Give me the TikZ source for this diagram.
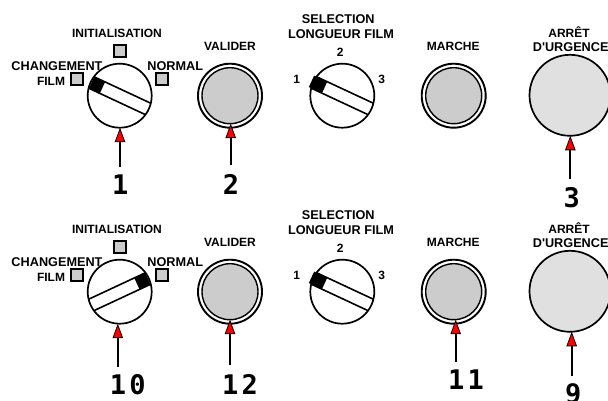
\documentclass[tikz,border=0pt]{standalone}
\usepackage{fontspec}
\setmainfont{Liberation Sans}
\newfontfamily\lblfont{Liberation Sans}
\newfontfamily\numfont[LetterSpace=12]{DejaVu Sans Mono Bold}
\usetikzlibrary{arrows.meta}
\tikzset{
  lbl/.style={font=\lblfont\fontsize{12}{12}\selectfont\bfseries,inner sep=0pt,outer sep=0pt,text=black},
  lblw/.style={font=\lblfont\fontsize{12.7}{12.7}\selectfont\bfseries,inner sep=0pt,outer sep=0pt,text=black},
  num/.style={font=\fontsize{27}{27}\selectfont\numfont,inner sep=0pt,outer sep=0pt,anchor=center},
  knob/.style={circle,draw=black,fill=white,line width=1.7pt,minimum size=64pt,inner sep=0pt,outer sep=0pt},
  btnouter/.style={circle,draw=black,fill=white,line width=1.9pt,minimum size=64pt,inner sep=0pt,outer sep=0pt},
  btninner/.style={circle,draw=black,fill=black!20,line width=1.4pt,minimum size=56pt,inner sep=0pt,outer sep=0pt},
  estop/.style={circle,draw=black,fill=black!12,line width=1.7pt,minimum size=81pt,inner sep=0pt,outer sep=0pt},
  lamp/.style={rectangle,draw=black,fill=black!20,line width=1.7pt,minimum size=12pt,inner sep=0pt,outer sep=0pt},
  redarrow/.style={draw=black,line width=1.7pt,-{Triangle[length=14.5pt,width=10.5pt,fill=red,line width=0.8pt]}},
}
% \knobbar{node}{angle}{tip from}{tip to}
\newcommand{\knobbar}[4]{%
  \begin{scope}[shift={(#1.center)},rotate=#2]
    \fill[black] (#3,-6.3) rectangle (#4,6.3);
    \draw[line width=1.6pt] (-31.4,-6.3) -- (31.4,-6.3);
    \draw[line width=1.6pt] (-31.4,6.3) -- (31.4,6.3);
  \end{scope}}
\begin{document}
\begin{tikzpicture}[x=1pt,y=-1pt]
\useasboundingbox (0,0) rectangle (608,401);
% top row
\node[knob] (k1) at (119.7,95.7) {};
\knobbar{k1}{-25}{-31}{-19}
\node[lamp] (l1) at (77.3,79) {};
\node[lamp] (l2) at (120.3,51.3) {};
\node[lamp] (l3) at (161.7,79) {};
\node[lbl] (t1) at (117,33.7) {INITIALISATION};
\node[lblw] (t2) at (57,65.7) {CHANGEMENT};
\node[lbl] (t3) at (51,81) {FILM};
\node[lblw] (t4) at (175.2,65.7) {NORMAL};
\node[btnouter] (b2o) at (230,95.7) {};
\node[btninner] (b2) at (230,95.7) {};
\node[lbl] (t5) at (230,46) {VALIDER};
\node[knob] (k2) at (342.3,95.7) {};
\knobbar{k2}{-25}{-34}{-19.5}
\node[lblw] (t6) at (338.3,19.3) {SELECTION};
\node[lblw] (t7) at (341,34.3) {LONGUEUR FILM};
\node[lbl] (t8) at (340.3,52.7) {2};
\node[lbl] (t9) at (296.7,79.3) {1};
\node[lbl] (t10) at (381.7,79.3) {3};
\node[btnouter] (b11o) at (453.7,95.7) {};
\node[btninner] (b11) at (453.7,95.7) {};
\node[lbl] (t11) at (453.3,46) {MARCHE};
\node[estop] (e3) at (570,95.3) {};
\node[lbl] (t12) at (569,31.7) {ARRÊT};
\node[lblw] (t13) at (570.7,46.7) {D'URGENCE};
% bottom row
\node[knob] (k3) at (119.7,291.7) {};
\knobbar{k3}{25}{19}{31}
\node[lamp] (l4) at (77.3,274.7) {};
\node[lamp] (l5) at (120.3,247) {};
\node[lamp] (l6) at (161.7,275) {};
\node[lbl] (t14) at (117,229.7) {INITIALISATION};
\node[lblw] (t15) at (57,261.7) {CHANGEMENT};
\node[lbl] (t16) at (51,277) {FILM};
\node[lblw] (t17) at (175.2,261.7) {NORMAL};
\node[btnouter] (b4o) at (230,291.7) {};
\node[btninner] (b4) at (230,291.7) {};
\node[lbl] (t18) at (230,242) {VALIDER};
\node[knob] (k4) at (342.3,291.7) {};
\knobbar{k4}{-25}{-34}{-19.5}
\node[lblw] (t19) at (338.3,215.3) {SELECTION};
\node[lblw] (t20) at (341,230.3) {LONGUEUR FILM};
\node[lbl] (t21) at (340.3,248.7) {2};
\node[lbl] (t22) at (296.7,275.3) {1};
\node[lbl] (t23) at (381.7,275.3) {3};
\node[btnouter] (b5o) at (453.7,291.7) {};
\node[btninner] (b5) at (453.7,291.7) {};
\node[lbl] (t24) at (453.3,242) {MARCHE};
\node[estop] (e9) at (570,291.3) {};
\node[lbl] (t25) at (569,227.7) {ARRÊT};
\node[lblw] (t26) at (570.7,242.7) {D'URGENCE};
% numbers
\node[num] (n1) at (120.3,185) {1};
\node[num] (n2) at (231,184) {2};
\node[num] (n3) at (571.7,197.3) {3};
\node[num] (n10) at (127.7,384.3) {10};
\node[num] (n12) at (240,384) {12};
\node[num] (n11) at (466,379.3) {11};
\node[num] (n9) at (573.3,394) {9};
% arrow tails
\coordinate (a1) at (120,166.7);
\coordinate (a2) at (230.7,165);
\coordinate (a3) at (570.3,179.3);
\coordinate (a10) at (117.8,366.7);
\coordinate (a12) at (230,365);
\coordinate (a11) at (455.7,361.7);
\coordinate (a9) at (571.7,375.7);
\draw[redarrow] (a1) -- (a1 |- k1.south);
\draw[redarrow] (a2) -- (a2 |- b2.south);
\draw[redarrow] (a3) -- (a3 |- e3.south);
\draw[redarrow] (a10) -- (a10 |- k3.south);
\draw[redarrow] (a12) -- (a12 |- b4.south);
\draw[redarrow] (a11) -- (a11 |- b5.south);
\draw[redarrow] (a9) -- (a9 |- e9.south);
\end{tikzpicture}
\end{document}
